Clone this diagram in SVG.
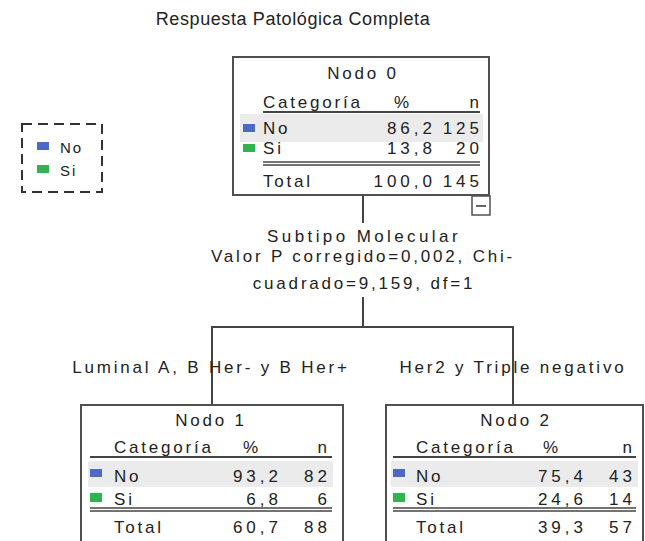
<svg xmlns="http://www.w3.org/2000/svg" width="645" height="541" viewBox="0 0 645 541">
<style>
text{font-family:"Liberation Sans",Arial,sans-serif;fill:#222;font-size:17px;letter-spacing:2.8px}
.title{font-size:18px;letter-spacing:0.6px}
.num{letter-spacing:4px;text-anchor:end}
.mid{text-anchor:middle}
.box{fill:#fff;stroke:#505050;stroke-width:2}
.band{fill:#ebebeb}
.hl{stroke:#444;stroke-width:2}
.dl{stroke:#444;stroke-width:1.3}
.conn{stroke:#444;stroke-width:2;fill:none}
.no{fill:#4a6bbf}
.si{fill:#33b34f}
</style>
<rect width="645" height="541" fill="#fff"/>
<text class="title mid" x="293" y="25">Respuesta Patológica Completa</text>

<g id="legend">
<rect x="22" y="124" width="80" height="68" fill="none" stroke="#333" stroke-width="2" stroke-dasharray="10,6"/>
<rect class="no" x="37" y="142" width="12" height="8"/>
<text x="60" y="153" style="letter-spacing:2px;font-size:15px">No</text>
<rect class="si" x="37" y="165" width="12" height="8"/>
<text x="60" y="176" style="letter-spacing:2px;font-size:15px">Si</text>
</g>

<g id="connectors">
<line class="conn" x1="363" y1="195" x2="363" y2="223"/>
<line class="conn" x1="363" y1="297" x2="363" y2="327"/>
<polyline class="conn" points="212,405 212,327 513,327 513,405"/>
<text class="mid" x="364" y="242" style="letter-spacing:3.4px">Subtipo Molecular</text>
<text class="mid" x="363" y="262">Valor P corregido=0,002, Chi-</text>
<text class="mid" x="364" y="289">cuadrado=9,159, df=1</text>
<text class="mid" x="211" y="373">Luminal A, B Her- y B Her+</text>
<text class="mid" x="513" y="373">Her2 y Triple negativo</text>
</g>

<g id="node0">
<rect class="box" x="233" y="57" width="256" height="138"/>
<text class="mid" x="363" y="79">Nodo 0</text>
<text x="263" y="108">Categoría</text>
<text class="mid" x="403" y="108">%</text>
<text class="num" x="483" y="108">n</text>
<line class="hl" x1="263" y1="112" x2="480" y2="112"/>
<rect class="band" x="240" y="114" width="243" height="28"/>
<rect class="no" x="243" y="124" width="12" height="8"/>
<text x="263" y="134">No</text>
<text class="num" x="436" y="134">86,2</text>
<text class="num" x="483" y="134">125</text>
<rect class="si" x="243" y="144" width="12" height="8"/>
<text x="263" y="154">Si</text>
<text class="num" x="436" y="154">13,8</text>
<text class="num" x="483" y="154">20</text>
<line class="dl" x1="263" y1="162" x2="480" y2="162"/>
<line class="dl" x1="263" y1="165" x2="480" y2="165"/>
<text x="263" y="187">Total</text>
<text class="num" x="436" y="187">100,0</text>
<text class="num" x="483" y="187">145</text>
<rect x="472" y="196" width="18" height="19" fill="#fff" stroke="#505050" stroke-width="1.5"/>
<line x1="476" y1="206" x2="486" y2="206" stroke="#333" stroke-width="1.5"/>
</g>

<g id="node1">
<rect class="box" x="81" y="405" width="262" height="160"/>
<text class="mid" x="211" y="426">Nodo 1</text>
<text x="114" y="453">Categoría</text>
<text class="mid" x="252" y="453">%</text>
<text class="num" x="331" y="453">n</text>
<line class="hl" x1="90" y1="457" x2="332" y2="457"/>
<rect class="band" x="88" y="461" width="245" height="26"/>
<rect class="no" x="90" y="469" width="12" height="8"/>
<text x="114" y="482">No</text>
<text class="num" x="282" y="482">93,2</text>
<text class="num" x="331" y="482">82</text>
<rect class="si" x="90" y="493" width="12" height="9"/>
<text x="114" y="505">Si</text>
<text class="num" x="282" y="505">6,8</text>
<text class="num" x="331" y="505">6</text>
<line class="dl" x1="90" y1="508" x2="332" y2="508"/>
<line class="dl" x1="90" y1="511" x2="332" y2="511"/>
<text x="114" y="533">Total</text>
<text class="num" x="282" y="533">60,7</text>
<text class="num" x="331" y="533">88</text>
</g>

<g id="node2">
<rect class="box" x="386" y="405" width="257" height="160"/>
<text class="mid" x="516" y="426">Nodo 2</text>
<text x="416" y="453">Categoría</text>
<text class="mid" x="552" y="453">%</text>
<text class="num" x="636" y="453">n</text>
<line class="hl" x1="393" y1="457" x2="636" y2="457"/>
<rect class="band" x="391" y="461" width="247" height="26"/>
<rect class="no" x="393" y="469" width="12" height="8"/>
<text x="416" y="482">No</text>
<text class="num" x="587" y="482">75,4</text>
<text class="num" x="636" y="482">43</text>
<rect class="si" x="393" y="493" width="12" height="9"/>
<text x="416" y="505">Si</text>
<text class="num" x="587" y="505">24,6</text>
<text class="num" x="636" y="505">14</text>
<line class="dl" x1="393" y1="508" x2="636" y2="508"/>
<line class="dl" x1="393" y1="511" x2="636" y2="511"/>
<text x="416" y="533">Total</text>
<text class="num" x="587" y="533">39,3</text>
<text class="num" x="636" y="533">57</text>
</g>
</svg>
